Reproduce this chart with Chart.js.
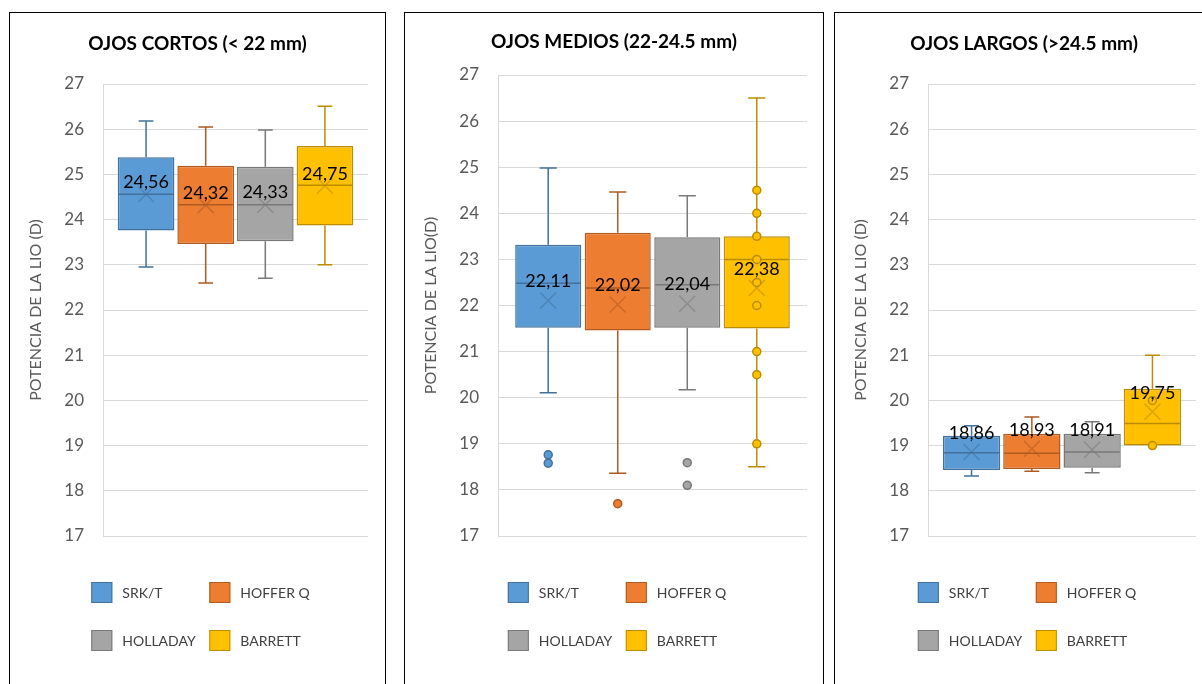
<!DOCTYPE html>
<html>
<head>
<meta charset="utf-8">
<script src="https://cdn.jsdelivr.net/npm/chart.js@4.4.1/dist/chart.umd.min.js"></script>
<style>
  body { margin: 0; background: #fff; overflow: hidden; width: 1202px; height: 684px; position: relative; }
  .panel { position: absolute; top: 12px; height: 700px; border: 1px solid #000; box-sizing: border-box; }
  .panel canvas { position: absolute; left: 0; top: 0; }
</style>
</head>
<body>
<div class="panel" style="left:9px;width:377px"><canvas id="cortos" width="375" height="672"></canvas></div>
<div class="panel" style="left:404px;width:420px"><canvas id="medios" width="418" height="672"></canvas></div>
<div class="panel" style="left:834px;width:380px"><canvas id="largos" width="378" height="672"></canvas></div>
<script>
// series / categories
const methods = ['SRK/T', 'HOFFER Q', 'HOLLADAY', 'BARRETT'];
const fills = ['#5B9BD5', '#ED7D31', '#A5A5A5', '#FFC000'];
const borders = ['#41719C', '#AE5A21', '#787878', '#BC8C00'];
const yMin = 17, yMax = 27, yStep = 1;

// OJOS CORTOS (< 22 mm)
const cortosMin    = [22.95, 22.60, 22.70, 23.00];
const cortosQ1     = [23.76, 23.46, 23.52, 23.87];
const cortosMedian = [24.56, 24.33, 24.33, 24.76];
const cortosQ3     = [25.38, 25.19, 25.17, 25.63];
const cortosMax    = [26.18, 26.05, 25.98, 26.51];
const cortosMean   = [24.56, 24.32, 24.33, 24.75];
const cortosPoints = [[], [], [], []];

// OJOS MEDIOS (22-24.5 mm)
const mediosMin    = [20.11, 18.36, 20.17, 18.50];
const mediosQ1     = [21.52, 21.46, 21.52, 21.50];
const mediosMedian = [22.48, 22.38, 22.45, 23.00];
const mediosQ3     = [23.32, 23.58, 23.48, 23.50];
const mediosMax    = [24.98, 24.46, 24.38, 26.50];
const mediosMean   = [22.11, 22.02, 22.04, 22.38];
const mediosPoints = [[18.76, 18.58], [17.70], [18.59, 18.10], [24.5, 24.0, 23.5, 23.0, 22.5, 22.0, 21.0, 20.5, 19.0]];

// OJOS LARGOS (>24.5 mm)
const largosMin    = [18.33, 18.43, 18.40, 19.00];
const largosQ1     = [18.46, 18.48, 18.51, 19.00];
const largosMedian = [18.84, 18.83, 18.86, 19.49];
const largosQ3     = [19.22, 19.26, 19.26, 20.26];
const largosMax    = [19.44, 19.63, 19.53, 21.00];
const largosMean   = [18.86, 18.93, 18.91, 19.75];
const largosPoints = [[], [], [], [19.0, 20.0]];

Chart.defaults.font.family = 'Lato, "Open Sans", sans-serif';

function fmt(v) {
  return v.toFixed(2).replace('.', ',');
}

// whiskers, median, mean marker, points and mean labels
function boxExtras(s, labelOffset) {
  return {
    id: 'boxExtras',
    afterDatasetsDraw(chart) {
      const ctx = chart.ctx;
      const y = chart.scales.y;
      ctx.save();
      methods.forEach((m, i) => {
        const bar = chart.getDatasetMeta(i).data[0];
        const x = bar.x, half = bar.width / 2, cap = bar.width * 0.13;
        const pMax = y.getPixelForValue(s.max[i]), pMin = y.getPixelForValue(s.min[i]);
        const pQ1 = y.getPixelForValue(s.q1[i]), pQ3 = y.getPixelForValue(s.q3[i]);
        const pMed = y.getPixelForValue(s.median[i]);
        ctx.strokeStyle = borders[i];
        ctx.lineWidth = 1.5;
        ctx.beginPath();
        ctx.moveTo(x, pQ3); ctx.lineTo(x, pMax);
        ctx.moveTo(x - cap, pMax); ctx.lineTo(x + cap, pMax);
        if (s.min[i] < s.q1[i]) {
          ctx.moveTo(x, pQ1); ctx.lineTo(x, pMin);
          ctx.moveTo(x - cap, pMin); ctx.lineTo(x + cap, pMin);
        }
        ctx.moveTo(x - half + 1, pMed); ctx.lineTo(x + half - 1, pMed);
        ctx.stroke();

        // mean X
        const pMean = y.getPixelForValue(s.mean[i]);
        ctx.globalAlpha = 0.55;
        ctx.beginPath();
        ctx.moveTo(x - 8, pMean - 8); ctx.lineTo(x + 8, pMean + 8);
        ctx.moveTo(x + 8, pMean - 8); ctx.lineTo(x - 8, pMean + 8);
        ctx.stroke();
        ctx.globalAlpha = 1;

        // points
        s.points[i].forEach(v => {
          ctx.beginPath();
          ctx.arc(x, y.getPixelForValue(v), 4, 0, Math.PI * 2);
          ctx.fillStyle = fills[i];
          ctx.fill();
          ctx.lineWidth = 1.5;
          ctx.stroke();
        });
      });

      ctx.fillStyle = '#000';
      ctx.font = '18px Lato';
      ctx.textAlign = 'center';
      ctx.textBaseline = 'middle';
      methods.forEach((m, i) => {
        const bar = chart.getDatasetMeta(i).data[0];
        ctx.fillText(fmt(s.mean[i]), bar.x, y.getPixelForValue(s.mean[i]) - labelOffset);
      });
      ctx.restore();
    }
  };
}

// two column legend under the plot
const legendGrid = {
  id: 'legendGrid',
  afterDraw(chart) {
    const ctx = chart.ctx;
    ctx.save();
    ctx.font = '14px Lato';
    const colW = 118, sq = 21, gap = 10, rowH = 48;
    const total = colW + sq + gap + ctx.measureText(methods[1]).width;
    const x0 = (chart.width - total) / 2 + 3;
    const y0 = chart.chartArea.bottom + 46;
    methods.forEach((m, i) => {
      const x = x0 + (i % 2) * colW;
      const yy = y0 + Math.floor(i / 2) * rowH;
      ctx.fillStyle = fills[i];
      ctx.fillRect(x, yy, sq, sq);
      ctx.strokeStyle = borders[i];
      ctx.lineWidth = 1;
      ctx.strokeRect(x + 0.5, yy + 0.5, sq - 1, sq - 1);
      ctx.fillStyle = '#404040';
      ctx.textAlign = 'left';
      ctx.textBaseline = 'middle';
      ctx.fillText(m, x + sq + gap, yy + sq / 2 + 1);
    });
    ctx.restore();
  }
};

function makeChart(id, title, yTitle, s, lay) {
  return new Chart(document.getElementById(id), {
    type: 'bar',
    data: {
      labels: [''],
      datasets: methods.map((m, i) => ({
        label: m,
        data: [[s.q1[i], s.q3[i]]],
        backgroundColor: fills[i],
        borderColor: borders[i],
        borderWidth: 1.5,
        borderSkipped: false,
        categoryPercentage: 0.9,
        barPercentage: 0.95
      }))
    },
    options: {
      responsive: false,
      animation: false,
      layout: { padding: { top: 0, right: 0, bottom: 149, left: 0 } },
      plugins: {
        legend: { display: false },
        tooltip: { enabled: false },
        title: {
          display: true,
          text: title,
          color: '#000',
          font: { size: 19, weight: 'bold' },
          padding: { top: lay.titleTop, bottom: lay.titleBottom }
        }
      },
      scales: {
        x: { display: false },
        y: {
          min: yMin, max: yMax,
          ticks: { stepSize: yStep, color: '#595959', font: { size: 17 }, padding: 19 },
          grid: { color: '#d9d9d9', lineWidth: 1, drawTicks: false },
          border: { display: true, color: '#d9d9d9' },
          title: {
            display: true, text: yTitle, color: '#595959',
            font: { size: 16 }, padding: { top: 16.4, bottom: 0 }
          },
          afterFit(scale) { scale.width = 93; }
        },
        // empty right-hand gutter so the title stays centred on the panel
        gutter: {
          position: 'right', min: yMin, max: yMax,
          ticks: { display: false }, grid: { display: false }, border: { display: false },
          afterFit(scale) { scale.width = lay.right; }
        }
      }
    },
    plugins: [boxExtras(s, lay.labelOffset), legendGrid]
  });
}

makeChart('cortos', 'OJOS CORTOS (< 22 mm)', 'POTENCIA DE LA LIO (D)',
  { min: cortosMin, q1: cortosQ1, median: cortosMedian, q3: cortosQ3, max: cortosMax, mean: cortosMean, points: cortosPoints },
  { right: 17, titleTop: 19.6, titleBottom: 28.6, labelOffset: 12 });

makeChart('medios', 'OJOS MEDIOS (22-24.5 mm)', 'POTENCIA DE LA LIO(D)',
  { min: mediosMin, q1: mediosQ1, median: mediosMedian, q3: mediosQ3, max: mediosMax, mean: mediosMean, points: mediosPoints },
  { right: 16, titleTop: 17.3, titleBottom: 21.9, labelOffset: 19 });

makeChart('largos', 'OJOS LARGOS (>24.5 mm)', 'POTENCIA DE LA LIO (D)',
  { min: largosMin, q1: largosQ1, median: largosMedian, q3: largosQ3, max: largosMax, mean: largosMean, points: largosPoints },
  { right: 17, titleTop: 19.6, titleBottom: 28.6, labelOffset: 19 });
</script>
</body>
</html>
